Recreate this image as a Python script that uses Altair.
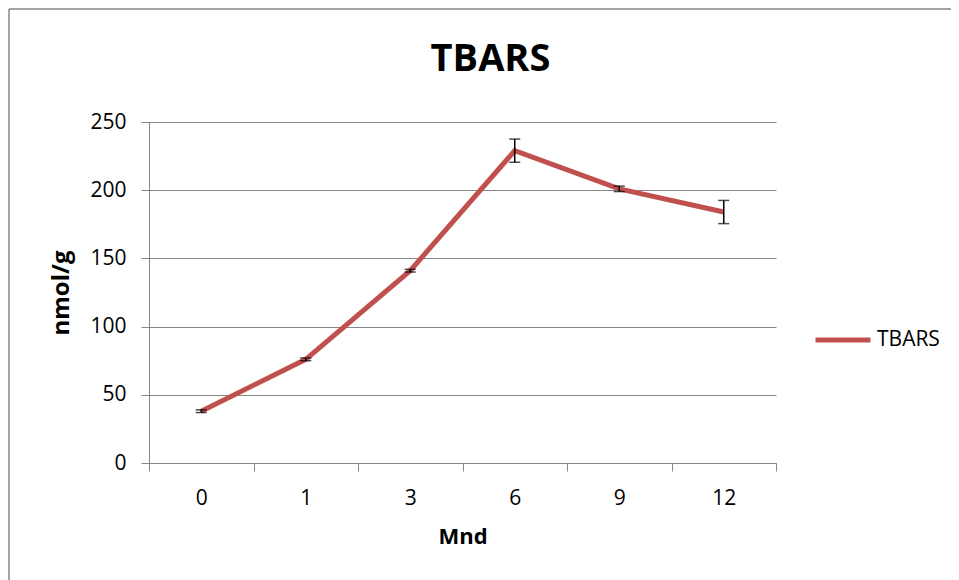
import altair as alt
import pandas as pd

months = ["0", "1", "3", "6", "9", "12"]
tbars = [38, 76, 141, 229, 201, 184]
errors = [1, 1, 1, 8.5, 2, 8.5]
series = "TBARS"

df = pd.DataFrame({
    "Mnd": months,
    "value": tbars,
    "lo": [v - e for v, e in zip(tbars, errors)],
    "hi": [v + e for v, e in zip(tbars, errors)],
    "series": [series] * len(months),
})

FONT = "Open Sans"
GRAY = "#868686"
RED = "#C0504D"

x_enc = alt.X(
    "Mnd:N", sort=months, bandPosition=0.5,
    scale=alt.Scale(type="band", paddingInner=0, paddingOuter=0),
    axis=alt.Axis(title="Mnd", labelAngle=0, tickBand="extent", tickSize=8,
                  tickColor=GRAY, domainColor=GRAY, labelFontSize=21,
                  labelPadding=16, titleFontSize=22, titleFontWeight="bold",
                  titlePadding=18, labelColor="black", grid=False),
)
y_scale = alt.Scale(domain=[0, 250])
y_axis = alt.Axis(title="nmol/g", values=[0, 50, 100, 150, 200, 250], tickSize=8,
                  tickColor=GRAY, domainColor=GRAY, gridColor=GRAY, gridOpacity=1,
                  labelFontSize=21, labelPadding=15, titleFontSize=24,
                  titleFontWeight="bold", titlePadding=16, labelColor="black")

base = alt.Chart(df)

line = base.mark_line(strokeWidth=5).encode(
    x=x_enc,
    y=alt.Y("value:Q", scale=y_scale, axis=y_axis),
    color=alt.Color("series:N", scale=alt.Scale(range=[RED]),
                    legend=alt.Legend(title=None, orient="none", legendX=664, legendY=188,
                                      symbolType="stroke", symbolSize=3025,
                                      symbolStrokeWidth=5, labelFontSize=21,
                                      labelColor="black", labelFont=FONT)),
)

rule = base.mark_rule(color="black", strokeWidth=1.5).encode(
    x=x_enc, y=alt.Y("lo:Q", scale=y_scale), y2="hi:Q")
cap_lo = base.mark_tick(color="black", thickness=1.5, size=11).encode(
    x=alt.X("Mnd:N", sort=months), y=alt.Y("lo:Q", scale=y_scale))
cap_hi = base.mark_tick(color="black", thickness=1.5, size=11).encode(
    x=alt.X("Mnd:N", sort=months), y=alt.Y("hi:Q", scale=y_scale))

one = alt.Chart(pd.DataFrame({"a": [0]}))
frame_top = one.mark_rule(color=GRAY, strokeWidth=1.5).encode(
    x=alt.value(-140), x2=alt.value(1000), y=alt.value(-113))
frame_left = one.mark_rule(color=GRAY, strokeWidth=1.5).encode(
    x=alt.value(-140), y=alt.value(-113), y2=alt.value(700))

chart = alt.layer(frame_top, frame_left, line, rule, cap_lo, cap_hi).properties(
    width=627, height=341,
    title=alt.TitleParams("TBARS", fontSize=38, fontWeight="bold", font=FONT,
                          color="black", anchor="middle", frame="group", dx=28,
                          offset=-71),
    autosize=alt.AutoSizeParams(type="none"),
    padding={"left": 141, "top": 114, "right": 175, "bottom": 120},
).configure(font=FONT).configure_view(stroke=None).configure_axis(
    labelFont=FONT, titleFont=FONT)

chart.save("out.html", embed_options={"renderer": "svg", "actions": False})
